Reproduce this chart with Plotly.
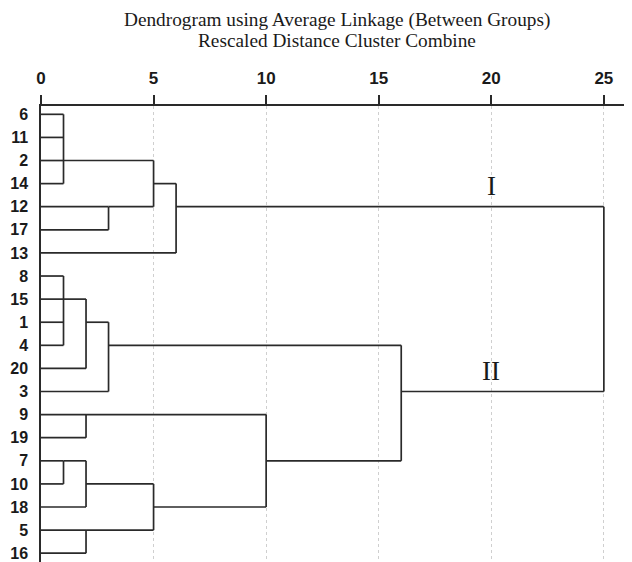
import plotly.graph_objects as go

# ---- data ----
leaf_labels = ["6", "11", "2", "14", "12", "17", "13", "8", "15", "1",
               "4", "20", "3", "9", "19", "7", "10", "18", "5", "16"]

# merge nodes: children (leaf labels or node ids "n#"), rescaled distance,
# and the leaf row on which the link to the parent is drawn
merge_children = [
    ["6", "11", "2", "14"],   # n0
    ["12", "17"],             # n1
    ["n0", "n1"],             # n2
    ["n2", "13"],             # n3
    ["8", "15", "1", "4"],    # n4
    ["n4", "20"],             # n5
    ["n5", "3"],              # n6
    ["9", "19"],              # n7
    ["7", "10"],              # n8
    ["n8", "18"],             # n9
    ["5", "16"],              # n10
    ["n9", "n10"],            # n11
    ["n7", "n11"],            # n12
    ["n6", "n12"],            # n13
    ["n3", "n13"],            # n14
]
merge_heights = [1, 3, 5, 6, 1, 2, 3, 2, 1, 2, 2, 5, 10, 16, 25]
merge_link_leaf = ["2", "12", "14", "12", "15", "1", "4", "9", "7", "10",
                   "5", "18", "7", "3", None]

axis_ticks = [0, 5, 10, 15, 20, 25]
cluster_names = ["I", "II"]
cluster_nodes = ["n3", "n13"]
cluster_label_x = 20

title_lines = ["Dendrogram using Average Linkage (Between Groups)",
               "Rescaled Distance Cluster Combine"]

# ---- build segments ----
row_of = {lab: i for i, lab in enumerate(leaf_labels)}
node_row = {}
node_h = {}
for lab in leaf_labels:
    node_row[lab] = row_of[lab]
    node_h[lab] = 0
for k, (ch, h, link) in enumerate(zip(merge_children, merge_heights, merge_link_leaf)):
    nid = "n%d" % k
    node_h[nid] = h
    node_row[nid] = row_of[link] if link is not None else None

xs, ys = [], []
for k, (ch, h) in enumerate(zip(merge_children, merge_heights)):
    rows = [node_row[c] for c in ch]
    # vertical connector
    xs += [h, h, None]
    ys += [min(rows), max(rows), None]
    # horizontal links from children
    for c in ch:
        xs += [node_h[c], h, None]
        ys += [node_row[c], node_row[c], None]

LINE = "#2a2a2a"
fig = go.Figure()
fig.add_trace(go.Scatter(x=xs, y=ys, mode="lines",
                         line=dict(color=LINE, width=1.7),
                         hoverinfo="skip", showlegend=False))

# page body has an 8px margin, so the figure is 8px smaller than the window
W, H = 624, 554
ML, MT = 33, 98
plot_h = H - MT

annotations = []
for name, nid in zip(cluster_names, cluster_nodes):
    annotations.append(dict(x=cluster_label_x, y=node_row[nid], xref="x", yref="y",
                            text=name, showarrow=False, yanchor="middle",
                            yshift=21,
                            font=dict(family="Liberation Serif", size=27, color="#1a1a1a")))
title_py = [12, 32.5]
for txt, py in zip(title_lines, title_py):
    annotations.append(dict(x=0.5, y=(H - py) / plot_h, xref="paper", yref="paper",
                            text=txt, showarrow=False, xanchor="center", yanchor="middle",
                            font=dict(family="Liberation Serif", size=19.3, color="#1a1a1a")))

fig.update_layout(
    width=W, height=H,
    margin=dict(l=ML, r=0, t=MT, b=0, pad=0, autoexpand=False),
    paper_bgcolor="white", plot_bgcolor="white",
    annotations=annotations,
    showlegend=False,
)
fig.update_xaxes(
    side="top", range=[0, 26.25], tickvals=axis_ticks,
    ticktext=[str(t) for t in axis_ticks],
    ticks="outside", ticklen=9, tickwidth=1.5, tickcolor=LINE,
    showline=True, linecolor=LINE, linewidth=1.5,
    showgrid=True, gridcolor="#cfcfcf", griddash="dot", gridwidth=1,
    zeroline=False, automargin=False,
    tickfont=dict(family="Liberation Sans", size=17, color="#1a1a1a", weight="bold"),
    ticklabelstandoff=4,
)
fig.update_yaxes(
    range=[19.38, -0.36], tickvals=list(range(len(leaf_labels))),
    ticktext=leaf_labels, ticks="", showgrid=False, zeroline=False,
    showline=True, linecolor=LINE, linewidth=1.5, automargin=False,
    tickfont=dict(family="Liberation Sans", size=16, color="#1a1a1a", weight="bold"),
    ticklabelstandoff=8,
)

fig.write_html("out.html")
